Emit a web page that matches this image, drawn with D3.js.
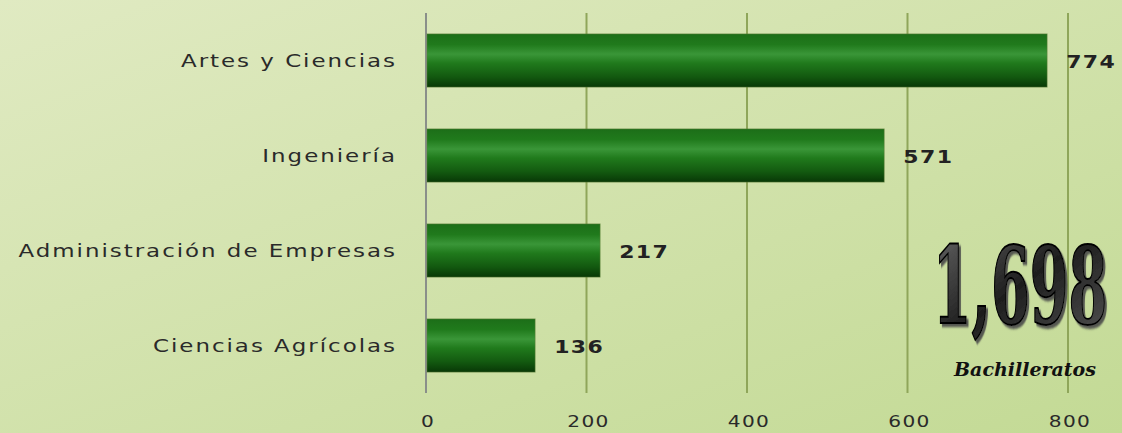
<!DOCTYPE html>
<html><head><meta charset="utf-8">
<script src="https://cdn.jsdelivr.net/npm/d3@7"></script>
<style>html,body{margin:0;padding:0;overflow:hidden;}</style>
</head><body>
<script>
const categories = ["Artes y Ciencias", "Ingeniería", "Administración de Empresas", "Ciencias Agrícolas"];
const values = [774, 571, 217, 136];
const tickValues = [0, 200, 400, 600, 800];
const totalLabel = "1,698";
const totalSub = "Bachilleratos";

const W = 1122, H = 433;
const svg = d3.select("body").append("svg").attr("width", W).attr("height", H);
const defs = svg.append("defs");

const bg = defs.append("linearGradient").attr("id","bg").attr("x1","0").attr("y1","0").attr("x2","1").attr("y2","1");
bg.append("stop").attr("offset","0%").attr("stop-color","#e0eac2");
bg.append("stop").attr("offset","100%").attr("stop-color","#c3da95");
svg.append("rect").attr("width",W).attr("height",H).attr("fill","url(#bg)");

const bg2 = defs.append("linearGradient").attr("id","bar").attr("x1","0").attr("y1","0").attr("x2","0").attr("y2","1");
[["0%","#1c6e18"],["20%","#207a1c"],["38%","#3a9638"],["55%","#207a1c"],["80%","#135a10"],["100%","#083806"]]
  .forEach(([o,c])=>bg2.append("stop").attr("offset",o).attr("stop-color",c));

const fc = defs.append("linearGradient").attr("id","num").attr("x1","0").attr("y1","0").attr("x2","1").attr("y2","1");
fc.append("stop").attr("offset","0%").attr("stop-color","#6a6a6a");
fc.append("stop").attr("offset","50%").attr("stop-color","#1e1e1e");
fc.append("stop").attr("offset","100%").attr("stop-color","#555");

const sh = defs.append("filter").attr("id","shadow").attr("x","-20%").attr("y","-20%").attr("width","140%").attr("height","140%");
sh.append("feDropShadow").attr("dx",2.5).attr("dy",2).attr("stdDeviation",0.6).attr("flood-color","#4a4a4a").attr("flood-opacity",0.9);

const x0 = 426, x1 = 1068, yTop = 13, yBot = 393;
const x = d3.scaleLinear().domain([0, 800]).range([x0, x1]);
const y = d3.scaleBand().domain(categories).range([yTop, yBot]).paddingInner(0.44).paddingOuter(0.22);
const FONT = "DejaVu Sans, Verdana, sans-serif";

// gridlines
svg.append("g").selectAll("line").data(tickValues.slice(1)).join("line")
  .attr("x1", d=>x(d)).attr("x2", d=>x(d)).attr("y1", yTop).attr("y2", yBot)
  .attr("stroke","#8fa65a").attr("stroke-width",2);

// axis line (left)
svg.append("line").attr("x1",x0).attr("x2",x0).attr("y1",yTop).attr("y2",yBot)
  .attr("stroke","#8a8f8a").attr("stroke-width",2);

// bottom tick labels (horizontally stretched)
svg.append("g").selectAll("g").data(tickValues).join("g")
  .attr("transform", d=>`translate(${x(d)+2},427) scale(1.3,1)`)
  .append("text").attr("text-anchor","middle")
  .attr("font-family",FONT).attr("font-size",15.5).attr("letter-spacing","1px").attr("fill","#2a2a2a")
  .text(d=>d);

// bars
svg.append("g").selectAll("rect").data(values).join("rect")
  .attr("x", x(0)+1).attr("y", (d,i)=>y(categories[i]))
  .attr("width", d=>x(d)-x(0)-1).attr("height", y.bandwidth())
  .attr("fill","url(#bar)").attr("stroke","#5f7f3a").attr("stroke-opacity",0.5).attr("stroke-width",1);

// category labels (horizontally stretched)
svg.append("g").selectAll("g").data(categories).join("g")
  .attr("transform", d=>`translate(397,${y(d)+y.bandwidth()/2+6}) scale(1.24,1)`)
  .append("text").attr("text-anchor","end")
  .attr("font-family",FONT).attr("font-size",18.5).attr("letter-spacing","1.6px").attr("fill","#2a2a2a")
  .text(d=>d);

// value labels
svg.append("g").selectAll("g").data(values).join("g")
  .attr("transform",(d,i)=>`translate(${x(d)+19},${y(categories[i])+y.bandwidth()/2+7}) scale(1.22,1)`)
  .append("text")
  .attr("font-family",FONT).attr("font-weight","bold").attr("font-size",18)
  .attr("letter-spacing","1.2px").attr("fill","#222").text(d=>d);

// big total
const g = svg.append("g").attr("transform","translate(1020,323) scale(0.82,1.58)");
g.append("text").attr("x",0).attr("y",0).attr("text-anchor","middle")
  .attr("font-family","DejaVu Serif, serif").attr("font-weight","bold").attr("font-size",68)
  .attr("fill","url(#num)").attr("stroke","#000").attr("stroke-width",1.2)
  .attr("filter","url(#shadow)").text(totalLabel);

svg.append("text").attr("x",1025).attr("y",376).attr("text-anchor","middle")
  .attr("font-family","DejaVu Serif, serif").attr("font-style","italic").attr("font-weight","bold")
  .attr("font-size",19).attr("fill","#111").text(totalSub);
</script>
</body></html>
